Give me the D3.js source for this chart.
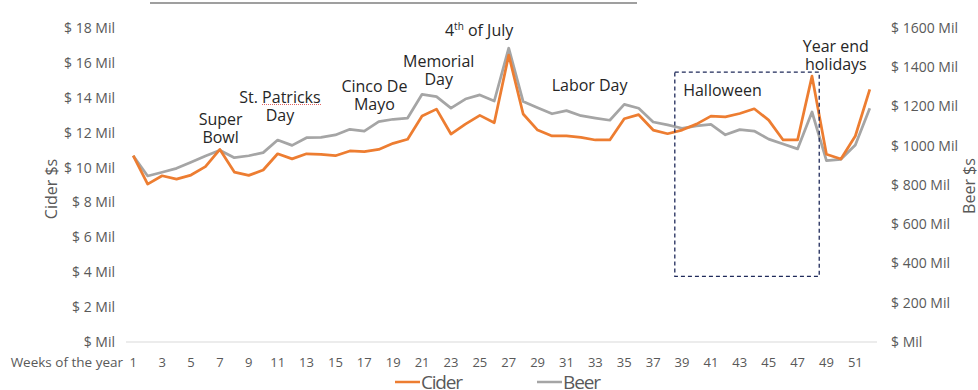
<!DOCTYPE html>
<html>
<head>
<meta charset="utf-8">
<script src="https://cdn.jsdelivr.net/npm/d3@7"></script>
<style>
  body { margin: 0; background: #fff; }
  text { font-family: "Open Sans", sans-serif; }
  .tick text { fill: #595959; font-size: 13px; }
  .yax .tick text { font-size: 14px; }
  .note { fill: #262626; font-size: 16px; }
</style>
</head>
<body>
<script>
const width = 978
const height = 390

/* Data: weekly dollar sales */
const weeks = d3.range(1, 53)
const cider = [10.68, 9.05, 9.53, 9.34, 9.57, 10.05, 11.04, 9.74, 9.55, 9.86,
  10.79, 10.5, 10.79, 10.76, 10.68, 10.95, 10.91, 11.04, 11.39, 11.62,
  12.95, 13.35, 11.92, 12.49, 12.99, 12.57, 16.45, 13.07, 12.15, 11.81,
  11.81, 11.73, 11.58, 11.58, 12.8, 13.03, 12.15, 11.94, 12.15, 12.49,
  12.95, 12.91, 13.1, 13.37, 12.72, 11.58, 11.58, 15.24, 10.76, 10.49,
  11.81, 14.48]
const beer = [949, 846, 865, 885, 916, 948, 977, 939, 949, 965,
  1029, 1002, 1041, 1043, 1055, 1084, 1075, 1123, 1135, 1141,
  1262, 1250, 1192, 1238, 1259, 1228, 1497, 1225, 1194, 1163,
  1179, 1153, 1141, 1130, 1211, 1191, 1121, 1106, 1089, 1101,
  1109, 1056, 1082, 1075, 1034, 1009, 984, 1172, 924, 931,
  1004, 1191]
const ciderTicks = d3.range(0, 19, 2)
const beerTicks = d3.range(0, 1601, 200)
const weekTicks = d3.range(1, 53, 2)

/* Holiday labels: week position and cider value for the text baseline */
const notes = [
  {lines: ["Super", "Bowl"], week: 7.05, value: 12.46},
  {lines: ["St. Patricks", "Day"], week: 11.16, value: 13.68},
  {lines: ["Cinco De", "Mayo"], week: 17.7, value: 14.31},
  {lines: ["Memorial", "Day"], week: 22.15, value: 15.75},
  {lines: ["Labor Day"], week: 32.6, value: 14.36},
  {lines: ["Halloween"], week: 41.8, value: 14.09},
  {lines: ["Year end", "holidays"], week: 49.65, value: 16.61}
]
const julyNote = {week: 24.95, value: 17.56}
/* Halloween box: spans weeks 39-48, cider values 3.76 to 15.47 */
const boxWeeks = [39, 48]
const boxValues = [3.76, 15.47]

const svg = d3.select("body")
  .append("svg")
  .attr("width", width)
  .attr("height", height)

const x = d3.scaleBand()
  .domain(weeks)
  .range([126, 877])
const xc = w => x(w) + x.bandwidth() / 2

const yL = d3.scaleLinear().domain([0, 18]).range([342, 28])
const yR = d3.scaleLinear().domain([0, 1600]).range([342, 28])

/* Stray rule at the top of the slide */
svg.append("line")
  .attr("x1", 150).attr("x2", 637)
  .attr("y1", 3).attr("y2", 3)
  .attr("stroke", "#7f7f7f").attr("stroke-width", 1.3)

/* Baseline */
svg.append("line")
  .attr("x1", 126).attr("x2", 877)
  .attr("y1", yL(0)).attr("y2", yL(0))
  .attr("stroke", "#d9d9d9")

/* Axes */
const leftAxis = svg.append("g")
  .attr("class", "yax")
  .attr("transform", "translate(118,0)")
  .call(d3.axisLeft(yL).tickValues(ciderTicks).tickSize(0)
    .tickFormat(d => d === 0 ? "$  Mil" : "$ " + d + " Mil"))
leftAxis.select(".domain").remove()

const rightAxis = svg.append("g")
  .attr("class", "yax")
  .attr("transform", "translate(888,0)")
  .call(d3.axisRight(yR).tickValues(beerTicks).tickSize(0)
    .tickFormat(d => d === 0 ? "$  Mil" : "$ " + d + " Mil"))
rightAxis.select(".domain").remove()

const bottomAxis = svg.append("g")
  .attr("transform", "translate(0,355)")
  .call(d3.axisBottom(x).tickValues(weekTicks).tickSize(0))
bottomAxis.select(".domain").remove()

svg.append("text")
  .attr("x", 123).attr("y", 367)
  .attr("text-anchor", "end")
  .attr("fill", "#595959").attr("font-size", 13.5)
  .text("Weeks of the year")

/* Axis titles */
svg.append("text")
  .attr("transform", "translate(57,189) rotate(-90)")
  .attr("text-anchor", "middle")
  .attr("fill", "#595959").attr("font-size", 16)
  .text("Cider $s")
svg.append("text")
  .attr("transform", "translate(975,186) rotate(-90)")
  .attr("text-anchor", "middle")
  .attr("fill", "#595959").attr("font-size", 16)
  .text("Beer $s")

/* Lines */
svg.append("path")
  .datum(beer)
  .attr("fill", "none")
  .attr("stroke", "#a5a5a5")
  .attr("stroke-width", 2.75)
  .attr("stroke-linejoin", "round")
  .attr("d", d3.line().x((d, i) => xc(weeks[i])).y(d => yR(d)))

svg.append("path")
  .datum(cider)
  .attr("fill", "none")
  .attr("stroke", "#ed7d31")
  .attr("stroke-width", 2.75)
  .attr("stroke-linejoin", "round")
  .attr("d", d3.line().x((d, i) => xc(weeks[i])).y(d => yL(d)))

/* Halloween box */
svg.append("rect")
  .attr("x", x(boxWeeks[0]))
  .attr("y", yL(boxValues[1]))
  .attr("width", x(boxWeeks[1]) + x.bandwidth() - x(boxWeeks[0]))
  .attr("height", yL(boxValues[0]) - yL(boxValues[1]))
  .attr("fill", "none")
  .attr("stroke", "#1f2a5a")
  .attr("stroke-width", 1.3)
  .attr("stroke-dasharray", "4,3")

/* Holiday notes */
const noteX = w => x(1) + (w - 0.5) * x.bandwidth()
notes.forEach(n => {
  n.lines.forEach((l, i) => {
    svg.append("text")
      .attr("class", "note")
      .attr("text-anchor", "middle")
      .attr("x", noteX(n.week))
      .attr("y", yL(n.value) + i * 18)
      .text(l)
  })
})

/* 4th of July with superscript */
const july = svg.append("text")
  .attr("class", "note")
  .attr("text-anchor", "middle")
  .attr("x", noteX(julyNote.week))
  .attr("y", yL(julyNote.value))
july.append("tspan").text("4")
july.append("tspan").attr("dy", -6).attr("font-size", 10).text("th")
july.append("tspan").attr("dy", 6).text(" of July")

/* spell-check squiggle under "Patricks" */
svg.append("line")
  .attr("x1", 262).attr("x2", 322)
  .attr("y1", 104.5).attr("y2", 104.5)
  .attr("stroke", "#e06666").attr("stroke-width", 1)
  .attr("stroke-dasharray", "1,1")

/* Legend */
const legend = [["Cider", "#ed7d31", 395], ["Beer", "#a5a5a5", 537]]
legend.forEach(([name, color, lx]) => {
  svg.append("line")
    .attr("x1", lx).attr("x2", lx + 25)
    .attr("y1", 382).attr("y2", 382)
    .attr("stroke", color).attr("stroke-width", 2.5)
  svg.append("text")
    .attr("x", lx + 26).attr("y", 389)
    .attr("fill", "#595959").attr("font-size", 19)
    .attr("textLength", name === "Cider" ? 42 : 38)
    .text(name)
})
</script>
</body>
</html>
